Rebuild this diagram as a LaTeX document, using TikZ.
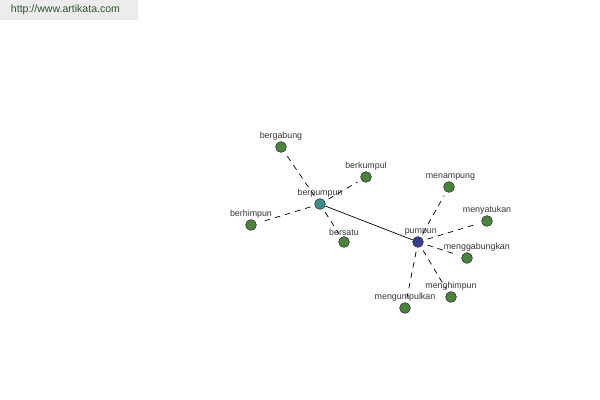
\documentclass[tikz,border=0pt]{standalone}
\usepackage{fontspec}
\setmainfont{Liberation Sans}
\usetikzlibrary{arrows.meta,positioning,calc}

\definecolor{leafgreen}{RGB}{74,130,62}
\definecolor{hubteal}{RGB}{64,140,140}
\definecolor{hubblue}{RGB}{60,60,140}
\definecolor{labgray}{RGB}{55,55,55}
\definecolor{urlbg}{RGB}{236,236,236}
\definecolor{urltext}{RGB}{50,80,50}

\begin{document}
\begin{tikzpicture}[
  x=0.025cm, y=-0.025cm,
  every node/.style={font=\fontsize{6.3}{7}\selectfont, text=labgray},
  word/.style={circle, draw=black!80, line width=0.4pt, minimum size=0.27cm, inner sep=0pt, fill=leafgreen},
  hub/.style={word, fill=hubteal},
  root/.style={word, fill=hubblue},
  lab/.style={inner sep=0.5pt},
  link/.style={line width=0.5pt},
  syn/.style={line width=0.5pt, dash pattern=on 4pt off 3.5pt, shorten <=3pt, shorten >=3pt}
]
\useasboundingbox (0,0) rectangle (600,400);

% --- site banner ---
\fill[urlbg] (0,0) rectangle (138,20);
\node[font=\fontsize{7.5}{9}\selectfont, text=urltext, anchor=west] (url) at (6,10) {http://www.artikata.com};

% --- nodes (absolute placement for fidelity) ---
\node[hub]  (berpumpun) at (320,204) [label={[lab]above:berpumpun}] {};
\node[root] (pumpun)    at (418,242) [label={[lab, xshift=2pt]above:pumpun}] {};

\node[word] (bergabung) at (281,147) [label={[lab]above:bergabung}] {};
\node[word] (berkumpul) at (366,177) [label={[lab]above:berkumpul}] {};
\node[word] (berhimpun) at (251,225) [label={[lab]above:berhimpun}] {};
\node[word] (bersatu)   at (344,242) [label={[lab]above:bersatu}] {};

\node[word] (menampung)     at (449,187) [label={[lab, xshift=1pt]above:menampung}] {};
\node[word] (menyatukan)    at (487,221) [label={[lab]above:menyatukan}] {};
\node[word] (menggabungkan) at (467,258) [label={[lab, xshift=7pt]above:menggabungkan}] {};
\node[word] (menghimpun)    at (451,297) [label={[lab]above:menghimpun}] {};
\node[word] (mengumpulkan)  at (405,308) [label={[lab]above:mengumpulkan}] {};

% --- edges ---
\draw[link] (berpumpun) -- (pumpun);

% berpumpun group
\draw[syn] (berpumpun) -- (bergabung);
\draw[syn] (berpumpun) -- (berkumpul);
\draw[syn] (berpumpun) -- (berhimpun);
\draw[syn] (berpumpun) -- (bersatu);

% pumpun group
\draw[syn] (pumpun) -- (menampung);
\draw[syn] (pumpun) -- (menyatukan);
\draw[syn] (pumpun) -- (menggabungkan);
\draw[syn] (pumpun) -- (menghimpun);
\draw[syn] (pumpun) -- (mengumpulkan);

\end{tikzpicture}
\end{document}
